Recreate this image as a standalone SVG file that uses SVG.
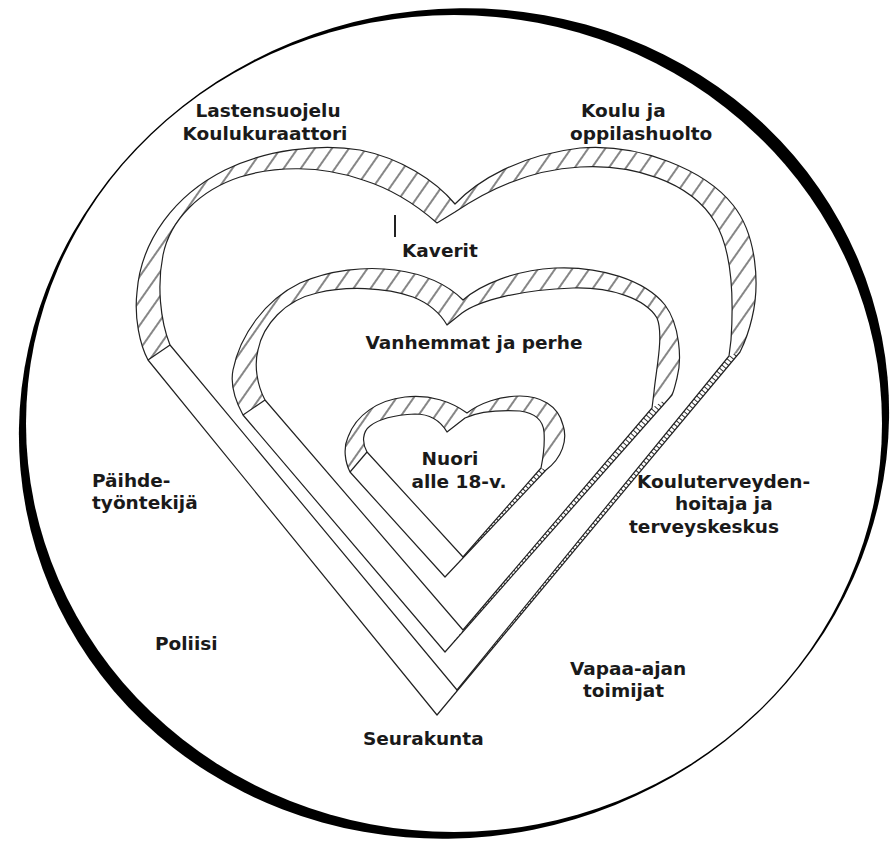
<svg xmlns="http://www.w3.org/2000/svg" width="896" height="843" viewBox="0 0 896 843">
<defs>
<pattern id="hatch" patternUnits="userSpaceOnUse" width="14" height="14" patternTransform="rotate(35)">
<rect width="14" height="14" fill="#fff"/>
<line x1="7" y1="-1" x2="7" y2="15" stroke="#222" stroke-width="1.1"/>
</pattern>
<clipPath id="c1"><polygon points="740,352 437,715 457,690 729,356"/></clipPath>
<clipPath id="c2"><polygon points="672,395 445,652 463,630 652,408"/></clipPath>
<clipPath id="c3"><polygon points="546,470 445,577 463,557 541,468"/></clipPath>
</defs>
<style>
.ring{fill:url(#hatch);fill-rule:evenodd;stroke:none}
.plain{fill:#fff;stroke:none}
.edge{fill:none;stroke:#222;stroke-width:1.2;stroke-linejoin:round}
.tick{fill:none;stroke:#333;stroke-width:9;stroke-dasharray:1 3}
.t{font-family:"DejaVu Sans","Verdana",sans-serif;font-weight:bold;font-size:18.5px;fill:#1a1a1a}
</style>
<rect width="896" height="843" fill="#fff"/>
<g id="circle" transform="translate(454,423.5) scale(428,408.5)">
<ellipse rx="1.030" ry="1.003" transform="rotate(-45)" fill="#000"/>
<circle r="1" fill="#fff"/>
</g>
<g id="heart-outer">
<path class="ring" d="M437,715 L148,360 C140,345 134,318 137,292 C141,240 175,195 225,170 C265,150 320,143 360,150 C400,158 435,180 455,204 C478,180 520,155 580,148 C640,143 705,170 733,205 C757,235 760,285 752,318 C749,331 745,342 740,352 Z M457,690 L170,345 C160,320 157,285 163,255 C170,220 200,190 240,177 C275,166 320,165 363,180 C395,190 420,208 437,223 L455,212 C480,195 525,170 580,167 C630,164 690,180 715,222 C735,255 733,310 731,340 L729,356 Z"/>
<polygon class="plain" points="437,715 148,360 170,345 457,690"/>
<polygon class="plain" points="740,352 437,715 457,690 729,356"/>
<line class="tick" clip-path="url(#c1)" x1="734.5" y1="354" x2="447" y2="702.5"/>
<path class="edge" d="M437,715 L148,360 C140,345 134,318 137,292 C141,240 175,195 225,170 C265,150 320,143 360,150 C400,158 435,180 455,204 C478,180 520,155 580,148 C640,143 705,170 733,205 C757,235 760,285 752,318 C749,331 745,342 740,352 Z"/>
<path class="edge" d="M457,690 L170,345 C160,320 157,285 163,255 C170,220 200,190 240,177 C275,166 320,165 363,180 C395,190 420,208 437,223 L455,212 C480,195 525,170 580,167 C630,164 690,180 715,222 C735,255 733,310 731,340 L729,356 Z"/>
<line class="edge" x1="148" y1="360" x2="170" y2="345"/>
</g>
<g id="heart-middle">
<path class="ring" d="M445,652 L243,415 C236,402 230,385 233,370 C240,335 265,300 300,283 C330,270 365,266 395,270 C425,274 448,285 463,300 C480,285 515,270 555,268 C600,266 645,280 665,305 C680,325 682,360 677,378 C675,386 674,391 672,395 Z M463,630 L265,400 C257,385 254,365 258,350 C263,325 285,300 317,293 C345,286 385,287 413,297 C428,303 440,313 447,325 L462,313 C480,300 520,290 573,288 C610,287 645,298 657,318 C664,335 656,370 654,392 L652,408 Z"/>
<polygon class="plain" points="445,652 243,415 265,400 463,630"/>
<polygon class="plain" points="672,395 445,652 463,630 652,408"/>
<line class="tick" clip-path="url(#c2)" x1="662" y1="401.5" x2="454" y2="641"/>
<path class="edge" d="M445,652 L243,415 C236,402 230,385 233,370 C240,335 265,300 300,283 C330,270 365,266 395,270 C425,274 448,285 463,300 C480,285 515,270 555,268 C600,266 645,280 665,305 C680,325 682,360 677,378 C675,386 674,391 672,395 Z"/>
<path class="edge" d="M463,630 L265,400 C257,385 254,365 258,350 C263,325 285,300 317,293 C345,286 385,287 413,297 C428,303 440,313 447,325 L462,313 C480,300 520,290 573,288 C610,287 645,298 657,318 C664,335 656,370 654,392 L652,408 Z"/>
<line class="edge" x1="243" y1="415" x2="265" y2="400"/>
</g>
<g id="heart-inner">
<path class="ring" d="M445,577 L350,472 C345,462 343,448 348,437 C356,415 378,400 405,397 C430,394 452,402 467,413 C480,403 500,396 520,396 C540,396 558,405 563,425 C568,440 562,458 546,470 Z M463,557 L367,452 C362,443 362,432 370,426 C380,418 395,415 415,414 C430,414 440,420 447,432 L465,418 C480,411 500,410 520,411 C535,413 543,420 544,432 C545,445 543,458 541,468 Z"/>
<polygon class="plain" points="445,577 350,472 367,452 463,557"/>
<polygon class="plain" points="546,470 445,577 463,557 541,468"/>
<line class="tick" clip-path="url(#c3)" x1="543.5" y1="469" x2="454" y2="567"/>
<path class="edge" d="M445,577 L350,472 C345,462 343,448 348,437 C356,415 378,400 405,397 C430,394 452,402 467,413 C480,403 500,396 520,396 C540,396 558,405 563,425 C568,440 562,458 546,470 Z"/>
<path class="edge" d="M463,557 L367,452 C362,443 362,432 370,426 C380,418 395,415 415,414 C430,414 440,420 447,432 L465,418 C480,411 500,410 520,411 C535,413 543,420 544,432 C545,445 543,458 541,468 Z"/>
<line class="edge" x1="350" y1="472" x2="367" y2="452"/>
</g>
<g id="mark"><line x1="395" y1="215" x2="395" y2="237" stroke="#222" stroke-width="2"/></g>
<g id="label-lastensuojelu"><text class="t" x="268" y="117" text-anchor="middle">Lastensuojelu</text><text class="t" x="265" y="140" text-anchor="middle">Koulukuraattori</text></g>
<g id="label-koulu"><text class="t" x="581" y="117">Koulu ja</text><text class="t" x="570" y="140">oppilashuolto</text></g>
<g id="label-kaverit"><text class="t" x="402" y="257">Kaverit</text></g>
<g id="label-vanhemmat"><text class="t" x="474" y="349" text-anchor="middle">Vanhemmat ja perhe</text></g>
<g id="label-nuori"><text class="t" x="450" y="465" text-anchor="middle">Nuori</text><text class="t" x="459" y="488" text-anchor="middle">alle 18-v.</text></g>
<g id="label-paihde"><text class="t" x="92" y="487">Päihde-</text><text class="t" x="92" y="509">työntekijä</text></g>
<g id="label-koulutervey"><text class="t" x="637" y="488">Kouluterveyden-</text><text class="t" x="675" y="510">hoitaja ja</text><text class="t" x="629" y="533">terveyskeskus</text></g>
<g id="label-poliisi"><text class="t" x="155" y="650">Poliisi</text></g>
<g id="label-vapaa"><text class="t" x="570" y="675">Vapaa-ajan</text><text class="t" x="583" y="697">toimijat</text></g>
<g id="label-seurakunta"><text class="t" x="363" y="745">Seurakunta</text></g>
</svg>
